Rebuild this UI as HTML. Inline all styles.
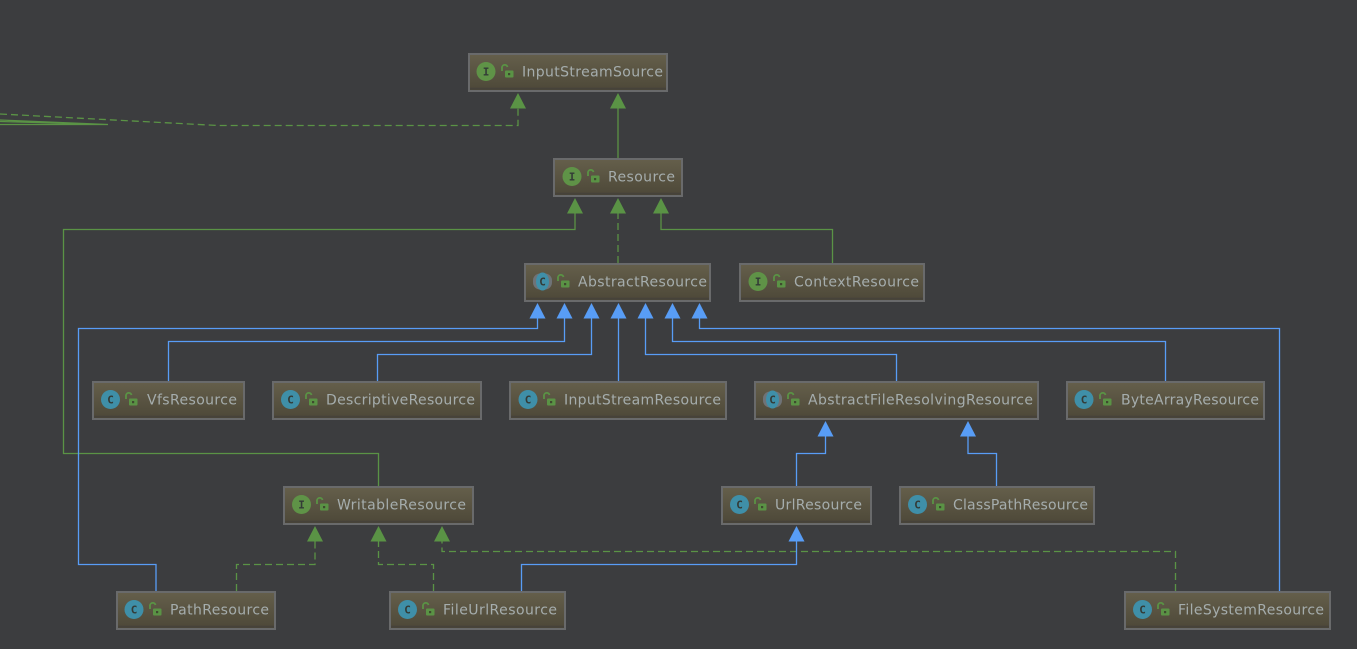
<!DOCTYPE html>
<html><head><meta charset="utf-8"><style>
html,body{margin:0;padding:0;background:#3c3d3f;overflow:hidden}
svg{display:block}
text.l{font-family:"DejaVu Sans","Liberation Sans",sans-serif;font-size:14px;fill:#a5adad}
text.g{font-family:"DejaVu Sans Mono","Liberation Mono",monospace;font-size:11px;font-weight:bold;fill:#333b37;text-anchor:middle}
rect.n{fill:url(#nb);stroke:#696a6b;stroke-width:2}
path.e{fill:none;stroke-width:1.3}
.gr{stroke:#5a9345}.bl{stroke:#589df6}.da{stroke-dasharray:7 4}
</style></head><body>
<svg width="1357" height="649" viewBox="0 0 1357 649" xmlns="http://www.w3.org/2000/svg">
<defs>
<linearGradient id="nb" x1="0" y1="0" x2="0" y2="1"><stop offset="0" stop-color="#655f4b"/><stop offset=".9" stop-color="#4f4a3a"/><stop offset=".92" stop-color="#45413a"/><stop offset="1" stop-color="#4b4738"/></linearGradient>
<g id="lock"><path d="M-6-1V-4a2.800 2.800 0 0 1 5.500-1" fill="none" stroke="#5a9345" stroke-width="1.800"/><rect x="-3" y="-1.500" width="8.500" height="7" rx="1" fill="#5a9345"/><rect x="0" y="1" width="2.200" height="2.200" fill="#3f4a2f"/></g>
<g id="ti"><circle r="9.500" fill="#5f9347"/></g>
<g id="tc"><circle r="9.500" fill="#3f8fa8"/></g>
<g id="ta"><rect x="-9.500" y="-8" width="19" height="16" rx="7" fill="#6f7377"/><ellipse rx="6.500" ry="9" fill="#3f8fa8"/></g>
<path id="a" d="M0 0l8 15.500h-16z"/>
</defs>

<!-- far-left edges -->
<path class="e gr da" d="M0 114L218 125.500H518V108"/>
<path class="e gr" d="M0 120L108 124.500M0 121.500L108 124.500M0 124.500H108"/>

<!-- green edges -->
<path class="e gr" d="M618 158V108"/>
<path class="e gr da" d="M618 263V213"/>
<path class="e gr" d="M378.500 486V453.500H63.500V229.500H575V213"/>
<path class="e gr" d="M832.500 263V229.500H661V213"/>
<path class="e gr da" d="M236.500 591V564.500H315V541"/>
<path class="e gr da" d="M433.500 591V564.500H378.500V541"/>
<path class="e gr da" d="M1175.500 591V551.500H442V541"/>

<!-- blue edges -->
<path class="e bl" d="M156 591V564.500H78.500V328.500H537.500V318"/>
<path class="e bl" d="M168.500 381V341.500H564.500V318"/>
<path class="e bl" d="M377.500 381V354.500H591.500V318"/>
<path class="e bl" d="M618.500 381V318"/>
<path class="e bl" d="M896.500 381V354.500H645.500V318"/>
<path class="e bl" d="M1165.500 381V341.500H672.500V318"/>
<path class="e bl" d="M1279.500 591V328.500H699.500V318"/>
<path class="e bl" d="M796.500 486V453.500H825.500V436"/>
<path class="e bl" d="M996.500 486V453.500H968V436"/>
<path class="e bl" d="M521.500 591V564.500H796.500V541"/>

<!-- arrowheads -->
<g fill="#5a9345">
<use href="#a" x="518" y="93"/><use href="#a" x="618" y="93"/>
<use href="#a" x="575" y="198"/><use href="#a" x="618" y="198"/><use href="#a" x="661" y="198"/>
<use href="#a" x="315" y="526"/><use href="#a" x="378.500" y="526"/><use href="#a" x="442" y="526"/>
</g>
<g fill="#589df6">
<use href="#a" x="537.500" y="303"/><use href="#a" x="564.500" y="303"/><use href="#a" x="591.500" y="303"/><use href="#a" x="618.500" y="303"/><use href="#a" x="645.500" y="303"/><use href="#a" x="672.500" y="303"/><use href="#a" x="699.500" y="303"/>
<use href="#a" x="825.500" y="421"/><use href="#a" x="968" y="421"/>
<use href="#a" x="796.500" y="526"/>
</g>

<!-- nodes -->
<rect class="n" x="469" y="54" width="198" height="37"/><use href="#ti" x="486" y="71.500"/><text class="g" x="486" y="75.500">I</text><use href="#lock" x="508" y="72"/><text class="l" x="522" y="76.500" textLength="141">InputStreamSource</text>

<rect class="n" x="554" y="159" width="128" height="37"/><use href="#ti" x="572" y="176.500"/><text class="g" x="572" y="180.500">I</text><use href="#lock" x="594" y="177"/><text class="l" x="608" y="181.500" textLength="67">Resource</text>

<rect class="n" x="525" y="264" width="185" height="37"/><use href="#ta" x="542.500" y="281.500"/><text class="g" x="542.500" y="285.500">C</text><use href="#lock" x="564" y="282"/><text class="l" x="578" y="286.500" textLength="129">AbstractResource</text>

<rect class="n" x="740" y="264" width="184" height="37"/><use href="#ti" x="758" y="281.500"/><text class="g" x="758" y="285.500">I</text><use href="#lock" x="780" y="282"/><text class="l" x="794" y="286.500" textLength="125">ContextResource</text>

<rect class="n" x="93" y="382" width="151" height="37"/><use href="#tc" x="110.500" y="399.500"/><text class="g" x="110.500" y="403.500">C</text><use href="#lock" x="132" y="400"/><text class="l" x="147" y="404.500" textLength="90">VfsResource</text>

<rect class="n" x="273" y="382" width="208" height="37"/><use href="#tc" x="290.500" y="399.500"/><text class="g" x="290.500" y="403.500">C</text><use href="#lock" x="312" y="400"/><text class="l" x="326" y="404.500" textLength="149">DescriptiveResource</text>

<rect class="n" x="510" y="382" width="216" height="37"/><use href="#tc" x="528" y="399.500"/><text class="g" x="528" y="403.500">C</text><use href="#lock" x="550" y="400"/><text class="l" x="564" y="404.500" textLength="157">InputStreamResource</text>

<rect class="n" x="755" y="382" width="283" height="37"/><use href="#ta" x="772.500" y="399.500"/><text class="g" x="772.500" y="403.500">C</text><use href="#lock" x="794" y="400"/><text class="l" x="808" y="404.500" textLength="225">AbstractFileResolvingResource</text>

<rect class="n" x="1067" y="382" width="197" height="37"/><use href="#tc" x="1084" y="399.500"/><text class="g" x="1084" y="403.500">C</text><use href="#lock" x="1106" y="400"/><text class="l" x="1121" y="404.500" textLength="138">ByteArrayResource</text>

<rect class="n" x="284" y="487" width="189" height="37"/><use href="#ti" x="301.500" y="504.500"/><text class="g" x="301.500" y="508.500">I</text><use href="#lock" x="323" y="505"/><text class="l" x="337" y="509.500" textLength="129">WritableResource</text>

<rect class="n" x="722" y="487" width="149" height="37"/><use href="#tc" x="739.500" y="504.500"/><text class="g" x="739.500" y="508.500">C</text><use href="#lock" x="761" y="505"/><text class="l" x="775" y="509.500" textLength="87">UrlResource</text>

<rect class="n" x="900" y="487" width="194" height="37"/><use href="#tc" x="917.500" y="504.500"/><text class="g" x="917.500" y="508.500">C</text><use href="#lock" x="939" y="505"/><text class="l" x="953" y="509.500" textLength="135">ClassPathResource</text>

<rect class="n" x="117" y="592" width="158" height="37"/><use href="#tc" x="134" y="609.500"/><text class="g" x="134" y="613.500">C</text><use href="#lock" x="156" y="610"/><text class="l" x="170" y="614.500" textLength="99">PathResource</text>

<rect class="n" x="390" y="592" width="175" height="37"/><use href="#tc" x="407.500" y="609.500"/><text class="g" x="407.500" y="613.500">C</text><use href="#lock" x="429" y="610"/><text class="l" x="443" y="614.500" textLength="114">FileUrlResource</text>

<rect class="n" x="1125" y="592" width="205" height="37"/><use href="#tc" x="1142.500" y="609.500"/><text class="g" x="1142.500" y="613.500">C</text><use href="#lock" x="1164" y="610"/><text class="l" x="1178" y="614.500" textLength="146">FileSystemResource</text>
</svg>
</body></html>
